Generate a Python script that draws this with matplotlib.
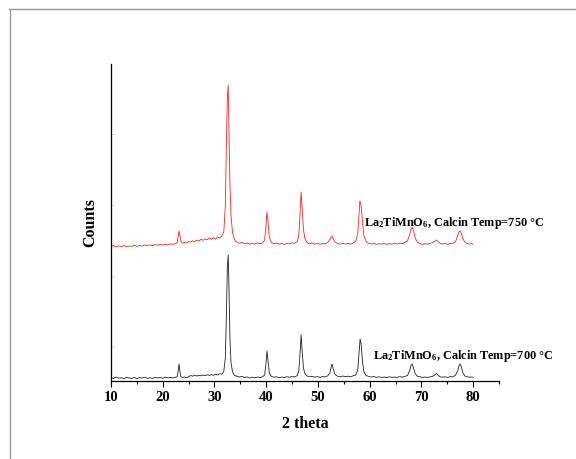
import matplotlib
matplotlib.use("Agg")
import matplotlib.pyplot as plt
from matplotlib.lines import Line2D

# --- datos (2 theta, cuentas) ---
tt_700 = [10.0, 10.5, 11.0, 11.5, 12.0, 12.5, 13.0, 13.5, 14.0, 14.5, 15.0, 15.5, 16.0, 16.5,
          17.0, 17.5, 18.0, 18.5, 19.0, 19.5, 20.0, 20.5, 21.0, 21.5, 22.0, 22.5, 22.8, 23.0,
          23.15, 23.3, 23.5, 23.8, 24.2, 24.6, 25.0, 25.4, 25.8, 26.2, 26.6, 27.0, 27.4, 27.8,
          28.2, 28.6, 29.0, 29.4, 29.8, 30.2, 30.6, 31.0, 31.4, 31.8, 32.1, 32.3, 32.5, 32.65,
          32.8, 33.0, 33.2, 33.5, 33.9, 34.3, 34.8, 35.3, 35.8, 36.3, 36.8, 37.3, 37.8, 38.3,
          38.8, 39.3, 39.7, 39.95, 40.15, 40.35, 40.6, 41.0, 41.5, 42.0, 42.5, 43.0, 43.5, 44.0,
          44.5, 45.0, 45.5, 46.0, 46.3, 46.55, 46.75, 46.95, 47.2, 47.5, 47.9, 48.4, 48.9, 49.4,
          49.9, 50.4, 50.9, 51.4, 51.9, 52.3, 52.6, 52.75, 52.95, 53.3, 53.8, 54.3, 54.8, 55.3,
          55.8, 56.3, 56.8, 57.3, 57.7, 57.95, 58.15, 58.35, 58.6, 58.9, 59.3, 59.8, 60.3, 60.8,
          61.3, 61.8, 62.3, 62.8, 63.3, 63.8, 64.3, 64.8, 65.3, 65.8, 66.3, 66.8, 67.3, 67.7,
          68.0, 68.2, 68.45, 68.8, 69.2, 69.7, 70.2, 70.7, 71.2, 71.7, 72.2, 72.6, 72.9, 73.2,
          73.6, 74.1, 74.6, 75.1, 75.6, 76.1, 76.6, 77.0, 77.3, 77.5, 77.75, 78.0, 78.4, 78.8,
          79.3, 79.7, 80.0]
counts_700 = [35, 25, 40, 28, 33, 22, 38, 30, 26, 36, 24, 34, 29, 38,
              27, 33, 25, 37, 30, 36, 28, 39, 31, 36, 30, 38, 45, 110,
              170, 100, 45, 35, 40, 33, 42, 55, 48, 58, 50, 56, 52, 60,
              54, 62, 56, 64, 58, 66, 60, 72, 68, 95, 230, 650, 1150, 1260,
              950, 420, 180, 90, 55, 48, 40, 45, 35, 40, 30, 38, 32, 40,
              34, 42, 60, 170, 300, 200, 80, 45, 38, 42, 33, 40, 35, 42,
              38, 44, 40, 55, 100, 280, 460, 300, 130, 70, 50, 42, 46, 38,
              44, 36, 45, 40, 52, 80, 150, 170, 120, 65, 48, 42, 50, 44,
              48, 42, 52, 60, 110, 280, 420, 370, 200, 90, 55, 46, 40, 45,
              36, 42, 35, 40, 34, 42, 36, 40, 35, 44, 38, 45, 55, 100,
              155, 170, 135, 75, 48, 42, 36, 40, 35, 42, 48, 62, 75, 60,
              42, 38, 42, 36, 44, 40, 60, 100, 155, 170, 135, 85, 50, 42,
              38, 40, 36]

tt_750 = [10.0, 10.5, 11.0, 11.5, 12.0, 12.5, 13.0, 13.5, 14.0, 14.5, 15.0, 15.5, 16.0, 16.5,
          17.0, 17.5, 18.0, 18.5, 19.0, 19.5, 20.0, 20.5, 21.0, 21.5, 22.0, 22.5, 22.8, 23.0,
          23.15, 23.3, 23.5, 23.8, 24.2, 24.6, 25.0, 25.4, 25.8, 26.2, 26.6, 27.0, 27.4, 27.8,
          28.2, 28.6, 29.0, 29.4, 29.8, 30.2, 30.6, 31.0, 31.4, 31.8, 32.1, 32.3, 32.5, 32.65,
          32.8, 33.0, 33.2, 33.5, 33.9, 34.3, 34.8, 35.3, 35.8, 36.3, 36.8, 37.3, 37.8, 38.3,
          38.8, 39.3, 39.7, 39.95, 40.15, 40.35, 40.6, 41.0, 41.5, 42.0, 42.5, 43.0, 43.5, 44.0,
          44.5, 45.0, 45.5, 46.0, 46.3, 46.55, 46.75, 46.95, 47.2, 47.5, 47.9, 48.4, 48.9, 49.4,
          49.9, 50.4, 50.9, 51.4, 51.9, 52.3, 52.6, 52.75, 52.95, 53.3, 53.8, 54.3, 54.8, 55.3,
          55.8, 56.3, 56.8, 57.3, 57.7, 57.95, 58.1, 58.3, 58.6, 58.9, 59.3, 59.8, 60.3, 60.8,
          61.3, 61.8, 62.3, 62.8, 63.3, 63.8, 64.3, 64.8, 65.3, 65.8, 66.3, 66.8, 67.3, 67.7,
          68.0, 68.2, 68.45, 68.8, 69.2, 69.7, 70.2, 70.7, 71.2, 71.7, 72.2, 72.6, 72.9, 73.2,
          73.6, 74.1, 74.6, 75.1, 75.6, 76.1, 76.6, 77.0, 77.3, 77.5, 77.75, 78.0, 78.4, 78.8,
          79.3, 79.7, 80.0]
counts_750 = [1345, 1355, 1340, 1352, 1344, 1356, 1342, 1350, 1346, 1358, 1348, 1355, 1350, 1360,
              1352, 1361, 1355, 1364, 1358, 1366, 1360, 1368, 1362, 1372, 1366, 1375, 1390, 1450,
              1500, 1460, 1400, 1378, 1386, 1380, 1395, 1388, 1402, 1394, 1410, 1400, 1418, 1406,
              1422, 1412, 1430, 1416, 1434, 1420, 1440, 1428, 1446, 1490, 1750, 2350, 2850, 2960,
              2550, 1950, 1650, 1480, 1410, 1390, 1378, 1385, 1372, 1380, 1368, 1378, 1370, 1380,
              1372, 1382, 1410, 1550, 1690, 1590, 1440, 1385, 1372, 1380, 1368, 1376, 1366, 1378,
              1370, 1382, 1376, 1395, 1460, 1680, 1890, 1730, 1510, 1420, 1385, 1372, 1380, 1368,
              1378, 1366, 1376, 1370, 1385, 1415, 1440, 1450, 1425, 1390, 1375, 1368, 1378, 1370,
              1376, 1368, 1380, 1395, 1470, 1680, 1800, 1770, 1600, 1450, 1395, 1378, 1370, 1376,
              1366, 1374, 1368, 1376, 1366, 1374, 1368, 1378, 1370, 1380, 1372, 1385, 1400, 1460,
              1515, 1540, 1505, 1430, 1388, 1374, 1366, 1374, 1368, 1376, 1385, 1400, 1410, 1398,
              1376, 1370, 1376, 1366, 1378, 1374, 1395, 1450, 1495, 1500, 1475, 1425, 1388, 1374,
              1370, 1374, 1368]

etiqueta_700 = r'La$_2$TiMnO$_6$, Calcin Temp=700 °C'
etiqueta_750 = r'La$_2$TiMnO$_6$, Calcin Temp=750 °C'

# --- estilo ---
plt.rcParams['font.family'] = ['Liberation Serif', 'DejaVu Serif']
plt.rcParams['mathtext.fontset'] = 'custom'
plt.rcParams['mathtext.rm'] = 'Liberation Serif:bold'
plt.rcParams['mathtext.default'] = 'rm'

fig = plt.figure(figsize=(5.76, 4.59), dpi=100)
ax = fig.add_axes([111 / 576, 1 - 381 / 459, 388 / 576, 317 / 459])

ax.plot(tt_750, counts_750, color='#ff2020', lw=0.6)
ax.plot(tt_700, counts_700, color='#202020', lw=0.6)

ax.text(58.9, 1550, etiqueta_750, fontsize=8.8, fontweight='bold')
ax.text(60.6, 220, etiqueta_700, fontsize=8.8, fontweight='bold')

ax.set_xlim(10, 85)
ax.set_ylim(0, 3170)
ax.set_xticks(range(10, 81, 10))
ax.set_xticks(range(15, 86, 10), minor=True)
ax.set_yticks([340, 1050, 1760, 2470])
ax.set_yticklabels([])
ax.tick_params(axis='x', which='major', direction='out', length=4, width=0.8, labelsize=10.5, pad=3)
ax.tick_params(axis='x', which='minor', direction='out', length=2.5, width=0.8)
ax.tick_params(axis='y', direction='in', length=2.5, width=0.5, colors='#cccccc')
for t in ax.get_xticklabels():
    t.set_fontweight('bold')

ax.spines['top'].set_visible(False)
ax.spines['right'].set_visible(False)
ax.spines['left'].set_linewidth(0.9)
ax.spines['bottom'].set_linewidth(0.9)

ax.set_xlabel('2 theta', fontsize=11.5, fontweight='bold', labelpad=9)
ax.set_ylabel('Counts', fontsize=11.5, fontweight='bold', labelpad=6)

# marco gris de la imagen
fig.add_artist(Line2D([9 / 576, 1], [1 - 8.5 / 459, 1 - 8.5 / 459], color='#999999', lw=1))
fig.add_artist(Line2D([9.5 / 576, 9.5 / 576], [0, 1 - 8.5 / 459], color='#999999', lw=1))

fig.savefig('out.png', dpi=100)
